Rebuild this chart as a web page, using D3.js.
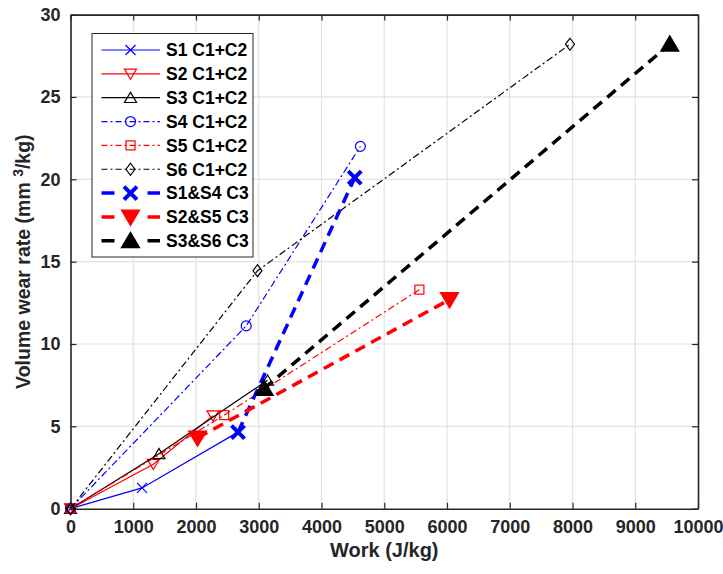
<!DOCTYPE html>
<html><head><meta charset="utf-8">
<script src="https://cdn.jsdelivr.net/npm/d3@7/dist/d3.min.js"></script>
<style>body{margin:0;background:#fff;} svg{display:block;font-family:Arial,"Liberation Sans",sans-serif;font-weight:bold;}</style>
</head><body><svg id="c" width="723" height="574"></svg>
<script>
// ---- data ----
const s1X=[0,1140,2670], s1Y=[0,1.26,4.65];
const s2X=[0,1320,2270], s2Y=[0,2.7,5.65];
const s3X=[0,1410,3140], s3Y=[0,3.33,7.8];
const s4X=[0,2800,4620], s4Y=[0,11.1,22.0];
const s5X=[0,2450,5560], s5Y=[0,5.68,13.3];
const s6X=[0,2980,7960], s6Y=[0,14.45,28.2];
const c14X=[2670,4530], c14Y=[4.65,20.1];
const c25X=[2025,6040], c25Y=[4.3,12.7];
const c36X=[3086,9550], c36Y=[7.3,28.2];
const seriesNames=["S1 C1+C2","S2 C1+C2","S3 C1+C2","S4 C1+C2","S5 C1+C2","S6 C1+C2","S1&S4 C3","S2&S5 C3","S3&S6 C3"];
const xTicks=[0,1000,2000,3000,4000,5000,6000,7000,8000,9000,10000];
const yTicks=[0,5,10,15,20,25,30];

const series=[
 {x:s1X,y:s1Y,color:"#0000ff",dash:null,w:1.2,m:"x",ms:10,mw:1.2,fill:false},
 {x:s2X,y:s2Y,color:"#ff0000",dash:null,w:1.2,m:"tdown",ms:12,mw:1.2,fill:false},
 {x:s3X,y:s3Y,color:"#000000",dash:null,w:1.2,m:"tup",ms:12,mw:1.2,fill:false},
 {x:s4X,y:s4Y,color:"#0000ff",dash:"7,3,2,3",w:1.2,m:"circle",ms:11,mw:1.2,fill:false},
 {x:s5X,y:s5Y,color:"#ff0000",dash:"7,3,2,3",w:1.2,m:"square",ms:9,mw:1.2,fill:false},
 {x:s6X,y:s6Y,color:"#000000",dash:"7,3,2,3",w:1.2,m:"diamond",ms:12,mw:1.2,fill:false},
 {x:c14X,y:c14Y,color:"#0000ff",dash:"11,7",w:3.5,m:"x",ms:13,mw:4,fill:false},
 {x:c25X,y:c25Y,color:"#ff0000",dash:"11,7",w:3.5,m:"tdown",ms:15,mw:3,fill:true},
 {x:c36X,y:c36Y,color:"#000000",dash:"11,7",w:3.5,m:"tup",ms:15,mw:3,fill:true}
];

const svg=d3.select("#c");
const L=70.5,R=698,T=14.6,B=508.7;
const x=d3.scaleLinear().domain([0,10000]).range([L,R]);
const y=d3.scaleLinear().domain([0,30]).range([B,T]);
const axisCol="#262626";

// grid
svg.append("g").selectAll("line").data(xTicks.slice(1,-1)).join("line")
 .attr("x1",d=>x(d)).attr("x2",d=>x(d)).attr("y1",T).attr("y2",B).attr("stroke","#e2e2e2").attr("stroke-width",1.2);
svg.append("g").selectAll("line").data(yTicks.slice(1,-1)).join("line")
 .attr("y1",d=>y(d)).attr("y2",d=>y(d)).attr("x1",L).attr("x2",R).attr("stroke","#e2e2e2").attr("stroke-width",1.2);

// axes
const tl=6;
const gx=svg.append("g").attr("transform",`translate(0,${B})`)
 .call(d3.axisBottom(x).tickValues(xTicks).tickSizeInner(-tl).tickSizeOuter(0).tickPadding(12).tickFormat(d3.format("d")));
const gxt=svg.append("g").attr("transform",`translate(0,${T})`)
 .call(d3.axisTop(x).tickValues(xTicks).tickSizeInner(-tl).tickSizeOuter(0).tickFormat(""));
const gy=svg.append("g").attr("transform",`translate(${L},0)`)
 .call(d3.axisLeft(y).tickValues(yTicks).tickSizeInner(-tl).tickSizeOuter(0).tickPadding(10).tickFormat(d3.format("d")));
const gyr=svg.append("g").attr("transform",`translate(${R},0)`)
 .call(d3.axisRight(y).tickValues(yTicks).tickSizeInner(-tl).tickSizeOuter(0).tickFormat(""));
[gx,gxt,gy,gyr].forEach(g=>{
 g.select(".domain").attr("stroke",axisCol).attr("stroke-width",1.6);
 g.selectAll(".tick line").attr("stroke",axisCol).attr("stroke-width",1.2);
 g.selectAll("text").attr("fill",axisCol).attr("font-size",18).attr("font-weight","bold").attr("font-family","Arial, Liberation Sans, sans-serif");
});

// marker drawing
function marker(g,type,cx,cy,s,color,w,fill){
 const h=s/2;
 const f=fill?color:"none";
 if(type==="x"){
  g.append("path").attr("d",`M${cx-h},${cy-h}L${cx+h},${cy+h}M${cx-h},${cy+h}L${cx+h},${cy-h}`)
   .attr("stroke",color).attr("stroke-width",w).attr("fill","none");
 } else if(type==="tdown"){
  g.append("path").attr("d",`M${cx-h},${cy-h*0.8}L${cx+h},${cy-h*0.8}L${cx},${cy+h*0.9}Z`)
   .attr("stroke",color).attr("stroke-width",w).attr("fill",f).attr("stroke-linejoin","miter");
 } else if(type==="tup"){
  g.append("path").attr("d",`M${cx-h},${cy+h*0.8}L${cx+h},${cy+h*0.8}L${cx},${cy-h*0.9}Z`)
   .attr("stroke",color).attr("stroke-width",w).attr("fill",f).attr("stroke-linejoin","miter");
 } else if(type==="circle"){
  g.append("circle").attr("cx",cx).attr("cy",cy).attr("r",h-0.5).attr("stroke",color).attr("stroke-width",w).attr("fill","none");
 } else if(type==="square"){
  g.append("rect").attr("x",cx-h).attr("y",cy-h).attr("width",s).attr("height",s).attr("stroke",color).attr("stroke-width",w).attr("fill","none");
 } else if(type==="diamond"){
  g.append("path").attr("d",`M${cx},${cy-h}L${cx+h*0.75},${cy}L${cx},${cy+h}L${cx-h*0.75},${cy}Z`)
   .attr("stroke",color).attr("stroke-width",w).attr("fill","none");
 }
}

// series
const plot=svg.append("g");
const line=d3.line().x(d=>x(d[0])).y(d=>y(d[1]));
series.forEach(s=>{
 const pts=s.x.map((v,i)=>[v,s.y[i]]);
 plot.append("path").datum(pts).attr("d",line).attr("fill","none").attr("stroke",s.color)
  .attr("stroke-width",s.w).attr("stroke-dasharray",s.dash);
 const mg=plot.append("g");
 pts.forEach(p=>marker(mg,s.m,x(p[0]),y(p[1]),s.ms,s.color,s.mw,s.fill));
});

// legend
const lg=svg.append("g");
const lx=92,ly=33.5,lw=161,lh=223.5;
lg.append("rect").attr("x",lx).attr("y",ly).attr("width",lw).attr("height",lh).attr("fill","#fff").attr("stroke","#262626").attr("stroke-width",1);
series.forEach((s,i)=>{
 const yy=50+i*23.85;
 lg.append("line").attr("x1",101.5).attr("x2",160).attr("y1",yy).attr("y2",yy).attr("stroke",s.color)
  .attr("stroke-width",s.w).attr("stroke-dasharray",s.dash? (i>=6?"13,33,13":"6,3,2,3"):null);
 marker(lg,s.m,130.5,yy,s.ms,s.color,s.mw,s.fill);
 lg.append("text").attr("x",166).attr("y",yy).attr("dy","0.36em").attr("font-size",17.5).attr("fill","#000").text(seriesNames[i]);
});

// axis labels
svg.append("text").attr("x",(L+R)/2).attr("y",557).attr("text-anchor","middle").attr("font-size",20).attr("fill",axisCol).text("Work (J/kg)");
const yl=svg.append("text").attr("transform",`translate(30,${(T+B)/2}) rotate(-90)`).attr("text-anchor","middle").attr("font-size",19.5).attr("fill",axisCol);
yl.append("tspan").text("Volume wear rate (mm ");
yl.append("tspan").attr("dy",-7).attr("font-size",14).text("3");
yl.append("tspan").attr("dy",7).text("/kg)");
</script></body></html>
